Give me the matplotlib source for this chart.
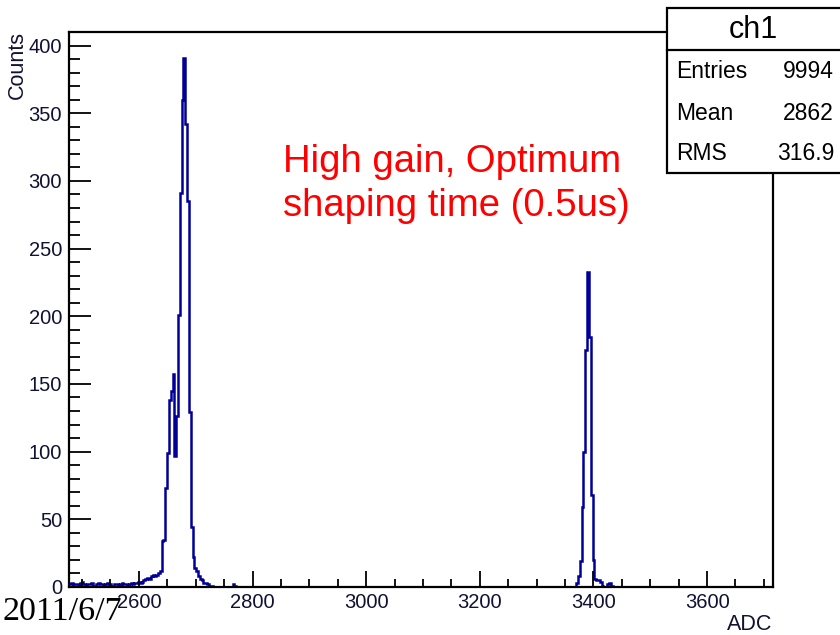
import numpy as np
import matplotlib
matplotlib.use('Agg')
import matplotlib.pyplot as plt
from matplotlib.patches import Rectangle
from matplotlib.ticker import MultipleLocator

# histogram binning (ADC)
BIN_WIDTH = 3.2
hist_lo = 2476.8
hist_hi = 3718.4

# low side pedestal tail
tail_start = 2476.8
tail_counts = [2, 3, 1, 2, 2, 1, 3, 4, 2, 1, 2, 2, 3, 1, 1, 2, 3, 2, 2, 1,
               2, 3, 2, 1, 1, 2, 2, 1, 2, 3, 2, 2, 1, 2, 3, 2, 3, 3, 4, 3,
               4, 5, 6, 7, 6, 8, 9]

# first peak
peak1_start = 2627.2
peak1_counts = [8, 9, 10, 12, 34, 35, 73, 99, 138, 145, 157, 97, 126, 201,
                291, 360, 391, 342, 285, 129, 44, 22, 14, 12, 8, 6, 5, 3,
                3, 2, 1, 1]

# isolated counts between peaks
blip_start = 2764.8
blip_counts = [2, 1]

# second peak
peak2_start = 3369.6
peak2_counts = [3, 8, 19, 59, 100, 175, 233, 185, 68, 20, 6, 5, 5, 4, 1,
                0, 0, 2, 3, 1]

stats_title = 'ch1'
stats_rows = [('Entries', '9994'), ('Mean', '2862'), ('RMS', '316.9')]

# build the full histogram from the pieces above
edges = np.arange(hist_lo, hist_hi + BIN_WIDTH / 2, BIN_WIDTH)
counts = np.zeros(len(edges) - 1)
for start, vals in [(tail_start, tail_counts), (peak1_start, peak1_counts),
                    (blip_start, blip_counts), (peak2_start, peak2_counts)]:
    i0 = int(round((start - hist_lo) / BIN_WIDTH))
    counts[i0:i0 + len(vals)] = vals

W, H = 840, 635
fig = plt.figure(figsize=(W / 100, H / 100), dpi=100)
plt.rcParams['font.family'] = ['Liberation Sans', 'DejaVu Sans']


def fx(x):
    return x / W


def fy(y):
    return 1 - y / H


ax = fig.add_axes([fx(69), fy(587), fx(773) - fx(69), fy(32) - fy(587)])
ax.stairs(counts, edges, color='#000099', lw=1.8, baseline=None)

ax.set_xlim(2477, 3716)
ax.set_ylim(0, 410)
ax.xaxis.set_major_locator(MultipleLocator(200))
ax.xaxis.set_minor_locator(MultipleLocator(50))
ax.yaxis.set_major_locator(MultipleLocator(50))
ax.yaxis.set_minor_locator(MultipleLocator(10))

label_color = '#111133'
ax.tick_params(axis='x', which='major', direction='in', length=11.5, width=1.3,
               labelsize=14.5, pad=4, labelcolor=label_color)
ax.tick_params(axis='x', which='minor', direction='in', length=5.8, width=1.3)
ax.tick_params(axis='y', which='major', direction='in', length=16, width=1.3,
               labelsize=14.5, pad=5, labelcolor=label_color)
ax.tick_params(axis='y', which='minor', direction='in', length=8, width=1.3)
for s in ax.spines.values():
    s.set_linewidth(1.6)

fig.text(fx(17), fy(31), 'Counts', rotation=90, ha='center', va='top',
         fontsize=15.5, color=label_color)
fig.text(fx(772), fy(624), 'ADC', ha='right', va='center', fontsize=15.5,
         color=label_color)

# red annotation
fig.text(fx(283), fy(172), 'High gain, Optimum', color='#ff0000',
         fontsize=27.5, va='baseline', ha='left')
fig.text(fx(283), fy(216), 'shaping time (0.5us)', color='#ff0000',
         fontsize=27.5, va='baseline', ha='left')

# stats box
box = Rectangle((fx(667), fy(173)), fx(850) - fx(667), fy(8) - fy(173),
                transform=fig.transFigure, facecolor='white', edgecolor='black',
                lw=1.6, zorder=5, clip_on=False)
fig.add_artist(box)
fig.add_artist(plt.Line2D([fx(667), fx(850)], [fy(50), fy(50)],
                          transform=fig.transFigure, color='black', lw=1.6,
                          zorder=6))
fig.text(fx(753), fy(30), stats_title, ha='center', va='center', fontsize=22,
         zorder=7)
for k, (name, val) in enumerate(stats_rows):
    y = 72 + k * 41
    fig.text(fx(676), fy(y), name, ha='left', va='center', fontsize=16.5,
             zorder=7)
    fig.text(fx(834), fy(y), val, ha='right', va='center', fontsize=16.5,
             zorder=7)

fig.text(fx(2), fy(612), '2011/6/7', ha='left', va='center', fontsize=24.5,
         family='Liberation Serif', color='black')

fig.savefig('out.png', dpi=100)
